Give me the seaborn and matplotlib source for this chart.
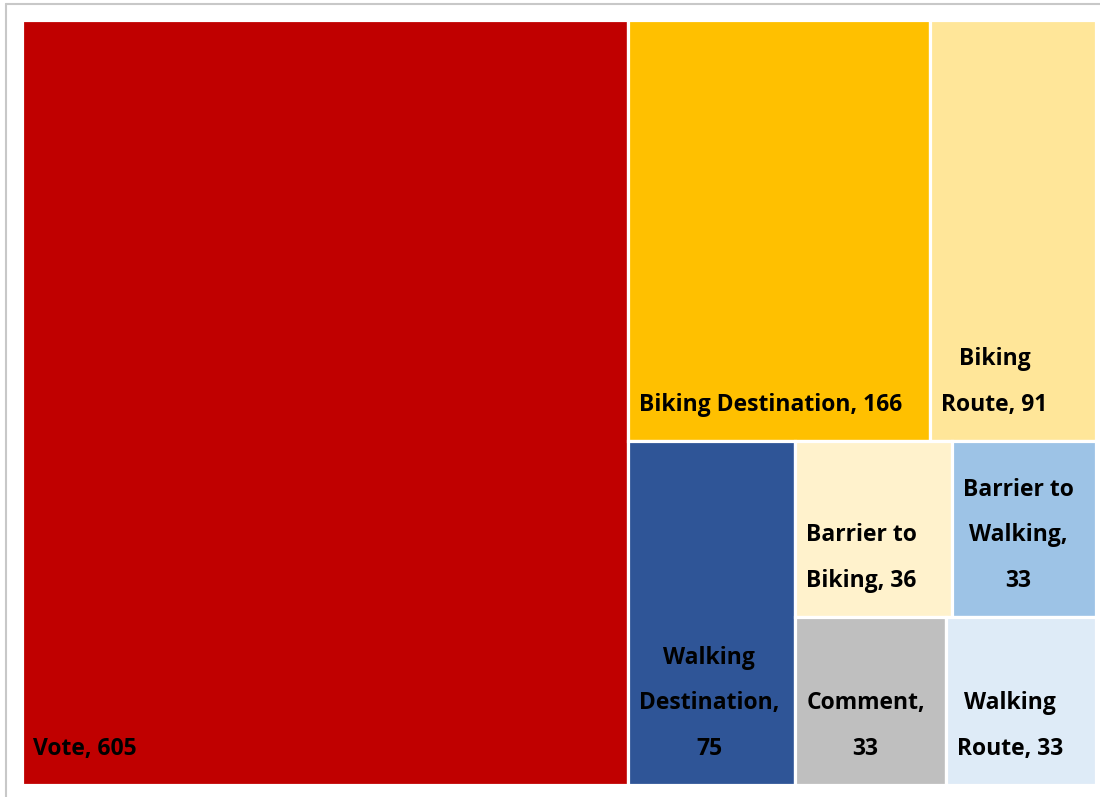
# %% Treemap of comment types
import matplotlib
matplotlib.use('Agg')
import matplotlib.pyplot as plt
from matplotlib.patches import Rectangle
from matplotlib.lines import Line2D
import seaborn as sns

# %%
# Data, largest first
categories = ['Vote', 'Biking Destination', 'Biking Route', 'Walking Destination',
              'Barrier to Biking', 'Barrier to Walking', 'Comment', 'Walking Route']
counts = [605, 166, 91, 75, 36, 33, 33, 33]
colors = ['#C00000', '#FFC000', '#FFE699', '#2F5597',
          '#FFF2CC', '#9DC3E6', '#BFBFBF', '#DEEBF7']
# how many tiles go in each strip of the layout
strip_sizes = [1, 2, 1, 2, 1, 1]

# %%
sns.set_theme(style='white')
plt.rcParams['font.family'] = ['Open Sans', 'DejaVu Sans']
palette = sns.color_palette(colors)


def strip_layout(values, w, h, strips):
    """Lay tiles out in strips along the shorter side of what is left."""
    scale = w * h / sum(values)
    x, y = 0.0, 0.0
    rects = []
    i = 0
    for n in strips:
        part = values[i:i + n]
        i += n
        area = sum(part) * scale
        if w >= h:
            cw = area / h
            yy = y
            for v in part:
                th = v * scale / cw
                rects.append((x, yy, cw, th))
                yy += th
            x += cw
            w -= cw
        else:
            rh = area / w
            xx = x
            for v in part:
                tw = v * scale / rh
                rects.append((xx, y, tw, rh))
                xx += tw
            y += rh
            h -= rh
    return rects


def wrap_label(text, max_w, renderer, ax, **kw):
    words = text.split()
    lines = [words[0]]
    probe = ax.text(0, 0, '', **kw)
    for wd in words[1:]:
        probe.set_text(lines[-1] + ' ' + wd)
        if probe.get_window_extent(renderer).width <= max_w:
            lines[-1] = lines[-1] + ' ' + wd
        else:
            lines.append(wd)
    probe.remove()
    return '\n'.join(lines)


# %%
fig = plt.figure(figsize=(11, 7.97), dpi=100)
ax = fig.add_axes([22 / 1100, 12 / 797, 1074 / 1100, 765 / 797])
renderer = fig.canvas.get_renderer()
bbox = ax.get_window_extent(renderer)
W, H = bbox.width, bbox.height

rects = strip_layout(counts, W, H, strip_sizes)
text_kw = dict(fontsize=16.5, fontweight='bold', color='black')
pad = 11
for (x, y, w, h), name, n, c in zip(rects, categories, counts, palette):
    ax.add_patch(Rectangle((x, y), w, h, facecolor=c, edgecolor='white', linewidth=2.3))
    label = wrap_label(f'{name}, {n}', w - 2 * pad, renderer, ax, **text_kw)
    ax.annotate(label, xy=(x, y + h), xytext=(pad, 24), textcoords='offset pixels',
                ha='left', va='bottom', multialignment='center',
                linespacing=2.2, **text_kw)

ax.set_xlim(0, W)
ax.set_ylim(H, 0)
ax.axis('off')

# light frame along the top and left
fig.add_artist(Line2D([5.5 / 1100, 5.5 / 1100], [0, 1 - 3.5 / 797],
                      transform=fig.transFigure, color='#C8C8C8', linewidth=1.5))
fig.add_artist(Line2D([5.5 / 1100, 1], [1 - 3.5 / 797, 1 - 3.5 / 797],
                      transform=fig.transFigure, color='#C8C8C8', linewidth=1.5))

fig.savefig('out.png', dpi=100, facecolor='white')
